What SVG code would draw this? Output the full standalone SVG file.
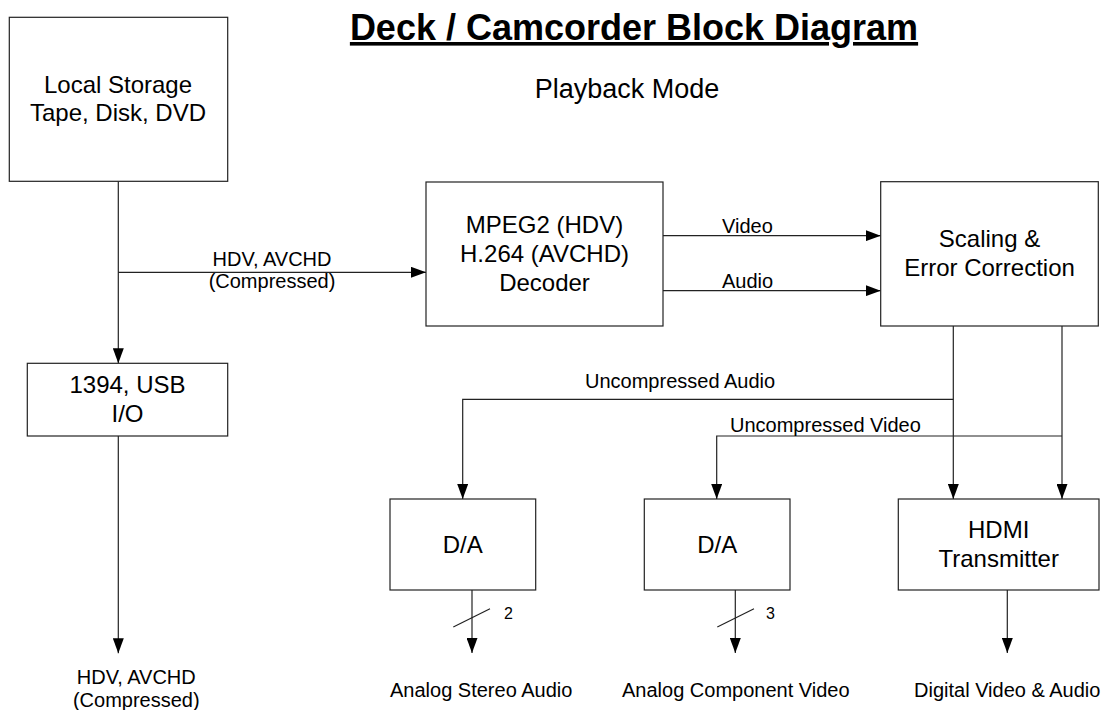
<svg xmlns="http://www.w3.org/2000/svg" width="1107" height="710" viewBox="0 0 1107 710">
<style>
  text { font-family: "Liberation Sans", Arial, sans-serif; fill: #000; }
  .box { fill: #fff; stroke: #222; stroke-width: 1.2; }
  .bt { font-size: 24px; text-anchor: middle; }
  .lbl { font-size: 20px; }
  .lc { font-size: 20px; text-anchor: middle; }
  .num { font-size: 16px; }
  .wire { fill: none; stroke: #222; stroke-width: 1.2; }
</style>
<defs>
  <marker id="arr" viewBox="0 0 15 11" refX="15" refY="5.5" markerWidth="15" markerHeight="11" markerUnits="userSpaceOnUse" orient="auto">
    <path d="M0,0 L15,5.5 L0,11 Z" fill="#000"/>
  </marker>
</defs>
<rect width="1107" height="710" fill="#fff"/>

<g id="title">
  <text x="634" y="40" font-size="36" font-weight="bold" text-anchor="middle" text-decoration="underline">Deck / Camcorder Block Diagram</text>
  <text x="627" y="98" font-size="27" text-anchor="middle">Playback Mode</text>
</g>

<g id="connectors">
  <path class="wire" d="M118.3,181.3 V363.3" marker-end="url(#arr)"/>
  <path class="wire" d="M118.3,272.3 H426" marker-end="url(#arr)"/>
  <path class="wire" d="M118.3,436 V653.3" marker-end="url(#arr)"/>
  <path class="wire" d="M663,235.7 H880.7" marker-end="url(#arr)"/>
  <path class="wire" d="M663,290.7 H880.7" marker-end="url(#arr)"/>
  <path class="wire" d="M953.3,326 V499" marker-end="url(#arr)"/>
  <path class="wire" d="M1062,326 V499" marker-end="url(#arr)"/>
  <path class="wire" d="M953.3,399.3 H462.7 V499" marker-end="url(#arr)"/>
  <path class="wire" d="M1062,436 H716.7 V499" marker-end="url(#arr)"/>
  <path class="wire" d="M472,590 V653" marker-end="url(#arr)"/>
  <path class="wire" d="M735.3,590 V653" marker-end="url(#arr)"/>
  <path class="wire" d="M1007.3,590 V653" marker-end="url(#arr)"/>
  <path class="wire" d="M453.3,627 L490,608.7"/>
  <path class="wire" d="M717.3,627 L754,608.7"/>
  <text class="lc" x="272" y="266">HDV, AVCHD</text>
  <text class="lc" x="272" y="288.3">(Compressed)</text>
  <text class="lbl" x="722" y="233.3">Video</text>
  <text class="lbl" x="722" y="288.3">Audio</text>
  <text class="lbl" x="585" y="388.3">Uncompressed Audio</text>
  <text class="lbl" x="730" y="432.3">Uncompressed Video</text>
  <text class="num" x="504" y="619">2</text>
  <text class="num" x="766" y="619">3</text>
</g>

<g id="local-storage">
  <rect class="box" x="9.3" y="17.3" width="218.4" height="164"/>
  <text class="bt" x="118" y="92.7">Local Storage</text>
  <text class="bt" x="118" y="120.7">Tape, Disk, DVD</text>
</g>

<g id="io-1394-usb">
  <rect class="box" x="27.3" y="363.3" width="200.4" height="72.7"/>
  <text class="bt" x="127.5" y="393.3">1394, USB</text>
  <text class="bt" x="127.5" y="421.7">I/O</text>
</g>

<g id="decoder">
  <rect class="box" x="426" y="182" width="237" height="144"/>
  <text class="bt" x="544.5" y="233.3">MPEG2 (HDV)</text>
  <text class="bt" x="544.5" y="262.3">H.264 (AVCHD)</text>
  <text class="bt" x="544.5" y="290.7">Decoder</text>
</g>

<g id="scaling">
  <rect class="box" x="880.7" y="181.7" width="217.6" height="144.3"/>
  <text class="bt" x="989.5" y="247.3">Scaling &amp;</text>
  <text class="bt" x="989.5" y="276">Error Correction</text>
</g>

<g id="da-audio">
  <rect class="box" x="390" y="499" width="145.7" height="91"/>
  <text class="bt" x="462.8" y="553.3">D/A</text>
</g>

<g id="da-video">
  <rect class="box" x="644.3" y="499" width="145.7" height="91"/>
  <text class="bt" x="717.2" y="553.3">D/A</text>
</g>

<g id="hdmi">
  <rect class="box" x="898.3" y="499" width="200.7" height="91"/>
  <text class="bt" x="998.7" y="538">HDMI</text>
  <text class="bt" x="998.7" y="566.7">Transmitter</text>
</g>

<g id="outputs">
  <text class="lc" x="136.3" y="684.3">HDV, AVCHD</text>
  <text class="lc" x="136.3" y="707">(Compressed)</text>
  <text class="lbl" x="390" y="696.7">Analog Stereo Audio</text>
  <text class="lbl" x="622" y="696.7">Analog Component Video</text>
  <text class="lbl" x="914" y="696.7">Digital Video &amp; Audio</text>
</g>
</svg>
